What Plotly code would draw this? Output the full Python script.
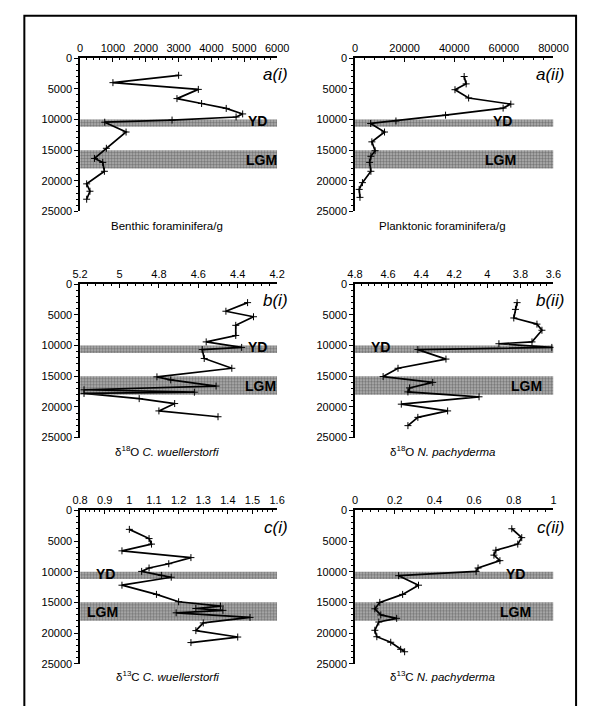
import plotly.graph_objects as go

W, H = 593, 712

# ---------------- data ----------------
depth_ticks = [0, 5000, 10000, 15000, 20000, 25000]
yd_band = [10000, 11200]
lgm_band = [15000, 18000]

ai_depth = [2800, 4000, 5100, 6600, 7400, 8200, 9100, 9600, 10100, 10450, 12050, 14700, 16350, 17000, 18450, 20500, 21700, 23000]
ai_val = [3000, 1000, 3600, 2950, 3700, 4450, 4950, 4750, 2800, 750, 1400, 800, 440, 690, 740, 200, 300, 200]

aii_depth = [3000, 4200, 5150, 6500, 7500, 8150, 9300, 10250, 10650, 12050, 13650, 15100, 16000, 17000, 18450, 20300, 21400, 22700]
aii_val = [44000, 44800, 40300, 45800, 62800, 59700, 36500, 16500, 6300, 11900, 6800, 8100, 6400, 5900, 6400, 3000, 1700, 2000]

bi_depth = [3000, 4400, 5300, 6700, 8350, 9400, 10300, 10650, 12100, 13700, 15100, 15600, 16600, 17200, 17600, 17800, 18650, 19450, 20650, 21600]
bi_val = [4.35, 4.46, 4.32, 4.41, 4.41, 4.56, 4.38, 4.58, 4.57, 4.43, 4.81, 4.74, 4.51, 5.18, 4.62, 5.18, 4.90, 4.72, 4.80, 4.50]

bii_depth = [3000, 4100, 5500, 6500, 7500, 9400, 9700, 10300, 10650, 12200, 13700, 15050, 16000, 16900, 17550, 18350, 19550, 20650, 21700, 23050]
bii_val = [3.82, 3.83, 3.84, 3.70, 3.67, 3.73, 3.93, 3.61, 4.42, 4.25, 4.54, 4.63, 4.33, 4.47, 4.48, 4.05, 4.52, 4.24, 4.42, 4.48]

ci_depth = [3100, 4600, 5500, 6600, 7700, 8700, 9400, 9950, 10600, 10900, 12200, 13700, 14900, 15600, 16000, 16300, 16700, 17450, 18350, 19600, 20650, 21550]
ci_val = [1.00, 1.08, 1.09, 0.97, 1.25, 1.16, 1.08, 1.05, 1.13, 1.17, 0.97, 1.11, 1.20, 1.37, 1.27, 1.38, 1.19, 1.49, 1.30, 1.27, 1.44, 1.25]

cii_depth = [3000, 4450, 5500, 6500, 7300, 8200, 9400, 9950, 10650, 12200, 13700, 15000, 16050, 17050, 17600, 18200, 19550, 20600, 21500, 22650, 23050]
cii_val = [0.79, 0.84, 0.82, 0.71, 0.70, 0.73, 0.62, 0.61, 0.22, 0.32, 0.24, 0.125, 0.10, 0.13, 0.21, 0.12, 0.10, 0.11, 0.18, 0.23, 0.25]

panels = [
    dict(lab="a(i)", d=ai_depth, v=ai_val, rng=[0, 6000], dt=1000, mdt=200,
         title="Benthic foraminifera/g", yd_x=260, lgm_x=264),
    dict(lab="a(ii)", d=aii_depth, v=aii_val, rng=[0, 80000], dt=20000, mdt=4000,
         title="Planktonic foraminifera/g", yd_x=514, lgm_x=512),
    dict(lab="b(i)", d=bi_depth, v=bi_val, rng=[5.2, 4.2], dt=0.2, mdt=0.04,
         title="δ<sup>18</sup>O <i>C. wuellerstorfi</i>", yd_x=260, lgm_x=263),
    dict(lab="b(ii)", d=bii_depth, v=bii_val, rng=[4.8, 3.6], dt=0.2, mdt=0.04,
         title="δ<sup>18</sup>O <i>N. pachyderma</i>", yd_x=388, lgm_x=539),
    dict(lab="c(i)", d=ci_depth, v=ci_val, rng=[0.8, 1.6], dt=0.1, mdt=0.02,
         title="δ<sup>13</sup>C <i>C. wuellerstorfi</i>", yd_x=101, lgm_x=98),
    dict(lab="c(ii)", d=cii_depth, v=cii_val, rng=[0, 1], dt=0.2, mdt=0.04,
         title="δ<sup>13</sup>C <i>N. pachyderma</i>", yd_x=528, lgm_x=528),
]

cols = [(75, 280), (361, 567.5)]
rows = [(53, 209), (283, 439), (513, 669)]
title_y = [224, 453, 681]

def px(x):
    return x / W

def py(y):
    return 1 - y / H

fig = go.Figure()
FONT = "Liberation Sans, Arial, sans-serif"

for i, p in enumerate(panels):
    r, c = divmod(i, 2)
    xl, xr = cols[c]
    yt, yb = rows[r]
    n = i + 1
    xa = "x" if n == 1 else f"x{n}"
    ya = "y" if n == 1 else f"y{n}"
    lo, hi = p["rng"]
    for band in (yd_band, lgm_band):
        fig.add_trace(go.Scatter(
            x=[lo, hi, hi, lo, lo], y=[band[0], band[0], band[1], band[1], band[0]],
            xaxis=xa, yaxis=ya, mode="none", fill="toself", fillcolor="#9a9a9a",
            fillpattern=dict(shape=".", bgcolor="#b2b2b2", fgcolor="#3a3a3a",
                             size=3, solidity=0.5),
            showlegend=False, hoverinfo="skip"))
    fig.add_trace(go.Scatter(
        x=p["v"], y=p["d"], xaxis=xa, yaxis=ya, mode="lines+markers",
        line=dict(color="black", width=1.7),
        marker=dict(symbol="cross-thin", size=5, line=dict(color="black", width=1)),
        showlegend=False, hoverinfo="skip"))
    ax = dict(domain=[px(xl), px(xr)], range=p["rng"], side="top", anchor=ya,
              showline=True, linecolor="black", linewidth=1.5, showgrid=False, zeroline=False,
              ticks="inside", ticklen=4, tickwidth=1, tickcolor="black", dtick=p["dt"],
              tick0=min(p["rng"]),
              tickformat="d" if p["dt"] >= 1 else "",
              minor=dict(ticks="inside", ticklen=2, dtick=p["mdt"], tickcolor="black"),
              tickfont=dict(family=FONT, size=11, color="black"), fixedrange=True)
    ay = dict(domain=[py(yb), py(yt)], range=[25000, 0], anchor=xa,
              showline=True, linecolor="black", linewidth=1.5, showgrid=False, zeroline=False,
              ticks="outside", ticklen=4, tickwidth=1, tickcolor="black",
              tickvals=depth_ticks, tickformat="d",
              minor=dict(ticks="outside", ticklen=2, dtick=1000, tickcolor="black"),
              tickfont=dict(family=FONT, size=11, color="black"), fixedrange=True)
    fig.layout["xaxis" if n == 1 else f"xaxis{n}"] = ax
    fig.layout["yaxis" if n == 1 else f"yaxis{n}"] = ay

    fig.add_annotation(x=px(xr + 13), y=py(yt + 17), xref="paper", yref="paper",
                       text=f"<i>{p['lab']}</i>", showarrow=False, xanchor="right",
                       yanchor="middle", font=dict(family=FONT, size=17, color="black"))
    fig.add_annotation(x=px(p["yd_x"]), y=sum(yd_band) / 2 - 300, xref="paper", yref=ya,
                       text="<b>YD</b>", showarrow=False, xanchor="center", yanchor="middle",
                       font=dict(family=FONT, size=14, color="black"))
    fig.add_annotation(x=px(p["lgm_x"]), y=sum(lgm_band) / 2 + 100, xref="paper", yref=ya,
                       text="<b>LGM</b>", showarrow=False, xanchor="center", yanchor="middle",
                       font=dict(family=FONT, size=14, color="black"))
    fig.add_annotation(x=px((xl + xr) / 2 - 12), y=py(title_y[r]), xref="paper", yref="paper",
                       text=p["title"], showarrow=False, xanchor="center", yanchor="middle",
                       font=dict(family=FONT, size=11.5, color="black"))

# outer frame (left, top, right)
fig.add_shape(type="path", xref="paper", yref="paper",
              path=f"M {px(17)} 0 L {px(17)} {py(10)} L {px(591)} {py(10)} L {px(591)} 0",
              line=dict(color="black", width=2))

fig.update_layout(width=W, height=H, margin=dict(l=0, r=0, t=0, b=0),
                  paper_bgcolor="white", plot_bgcolor="rgba(0,0,0,0)",
                  font=dict(family=FONT))
fig.write_html("out.html", config={"displayModeBar": False},
               post_script="document.body.style.margin='0';document.body.style.overflow='hidden';")
